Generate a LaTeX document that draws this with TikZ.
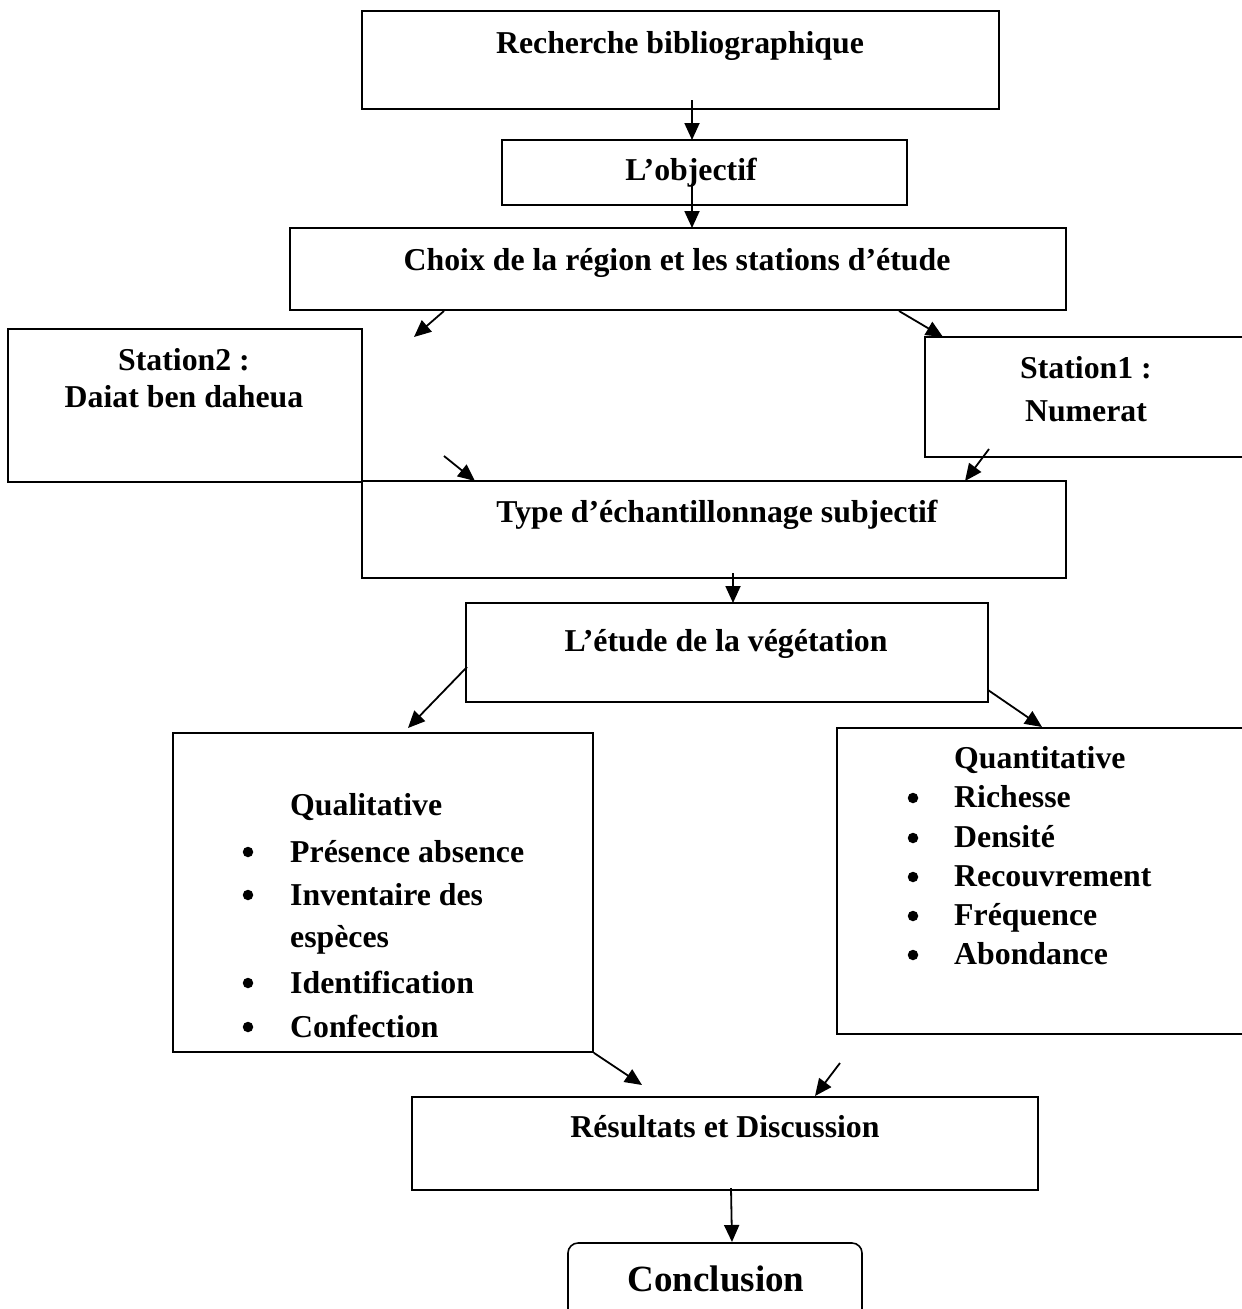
\documentclass[tikz,border=0pt]{standalone}
\usepackage{fontspec}
\setmainfont{Liberation Serif}
\usetikzlibrary{arrows.meta,fit}
\begin{document}
\begin{tikzpicture}[x=1pt,y=-1pt,
  box/.style={draw, line width=1.6pt, inner sep=0pt},
  rbox/.style={box, rounded corners=10pt},
  txt/.style={anchor=base, inner sep=0pt, font=\fontsize{31.8}{38}\selectfont\bfseries},
  ltxt/.style={txt, anchor=base west},
  big/.style={anchor=base, inner sep=0pt, font=\fontsize{37}{44}\selectfont\bfseries},
  bul/.style={circle, fill=black, inner sep=0pt, minimum size=10.5pt},
  arr/.style={-{Triangle[length=17pt,width=15pt]}, line width=1.8pt}]
\useasboundingbox (0,0) rectangle (1242,1309);
\clip (0,0) rectangle (1242,1309);
% boxes
\node (rech) [box, fit={(362,11) (999,109)}] {};
\node (obj) [box, fit={(502,140) (907,205)}] {};
\node (choix) [box, fit={(290,228) (1066,310)}] {};
\node (st2) [box, fit={(8,329) (362,482)}] {};
\node (st1) [box, fit={(925,337) (1260,457)}] {};
\node (type) [box, fit={(362,481) (1066,578)}] {};
\node (etude) [box, fit={(466,603) (988,702)}] {};
\node (qual) [box, fit={(173,733) (593,1052)}] {};
\node (quant) [box, fit={(837,728) (1260,1034)}] {};
\node (res) [box, fit={(412,1097) (1038,1190)}] {};
\node (concl) [rbox, fit={(568,1243) (862,1330)}] {};
% texts
\node (trech) [txt] at (680,53) {Recherche bibliographique};
\node (tobj) [txt] at (691,180) {L’objectif};
\node (tchoix) [txt] at (677,270) {Choix de la région et les stations d’étude};
\node (tst2a) [txt] at (184,370) {Station2 :};
\node (tst2b) [txt] at (184,407) {Daiat ben daheua};
\node (tst1a) [txt] at (1086,378) {Station1 :};
\node (tst1b) [txt] at (1086,421) {Numerat};
\node (ttype) [txt] at (717,522) {Type d’échantillonnage subjectif};
\node (tetude) [txt] at (726,651) {L’étude de la végétation};
\node (tres) [txt] at (725,1137) {Résultats et Discussion};
\node (tconcl) [big] at (716,1291) {Conclusion};
% qualitative list
\node (ql0) [ltxt] at (290,815) {Qualitative};
\node (ql1) [ltxt] at (290,862) {Présence absence};
\node (ql2) [ltxt] at (290,905) {Inventaire des};
\node (ql3) [ltxt] at (290,947) {espèces};
\node (ql4) [ltxt] at (290,993) {Identification};
\node (ql5) [ltxt] at (290,1037) {Confection};
\node (qb1) [bul] at (248,852) {};
\node (qb2) [bul] at (248,895) {};
\node (qb4) [bul] at (248,983) {};
\node (qb5) [bul] at (248,1027) {};
% quantitative list
\node (qn0) [ltxt] at (954,768) {Quantitative};
\node (qn1) [ltxt] at (954,807) {Richesse};
\node (qn2) [ltxt] at (954,847) {Densité};
\node (qn3) [ltxt] at (954,886) {Recouvrement};
\node (qn4) [ltxt] at (954,925) {Fréquence};
\node (qn5) [ltxt] at (954,964) {Abondance};
\node (nb1) [bul] at (913,798) {};
\node (nb2) [bul] at (913,838) {};
\node (nb3) [bul] at (913,877) {};
\node (nb4) [bul] at (913,916) {};
\node (nb5) [bul] at (913,955) {};
% connector points
\coordinate (a1s) at (692,100);
\coordinate (a1e) at (692,140);
\coordinate (a2s) at (692,184);
\coordinate (a2e) at (692,228);
\coordinate (a3s) at (444,311);
\coordinate (a3e) at (414,337);
\coordinate (a4s) at (899,311);
\coordinate (a4e) at (943,337);
\coordinate (a5s) at (444,456);
\coordinate (a5e) at (475,481);
\coordinate (a6s) at (989,449);
\coordinate (a6e) at (965,481);
\coordinate (a7s) at (733,573);
\coordinate (a7e) at (733,603);
\coordinate (a8s) at (467,667);
\coordinate (a8e) at (408,728);
\coordinate (a9s) at (988,690);
\coordinate (a9e) at (1042,727);
\coordinate (a10e) at (642,1085);
\coordinate (a11s) at (840,1063);
\coordinate (a11e) at (815,1096);
\coordinate (a12s) at (731,1188);
\coordinate (a12e) at (732,1242);
% connectors
\draw[arr] (a1s) -- (a1e);
\draw[arr] (a2s) -- (a2e);
\draw[arr] (a3s) -- (a3e);
\draw[arr] (a4s) -- (a4e);
\draw[arr] (a5s) -- (a5e);
\draw[arr] (a6s) -- (a6e);
\draw[arr] (a7s) -- (a7e);
\draw[arr] (a8s) -- (a8e);
\draw[arr] (a9s) -- (a9e);
\draw[arr] (qual.south east) -- (a10e);
\draw[arr] (a11s) -- (a11e);
\draw[arr] (a12s) -- (a12e);
\end{tikzpicture}
\end{document}
